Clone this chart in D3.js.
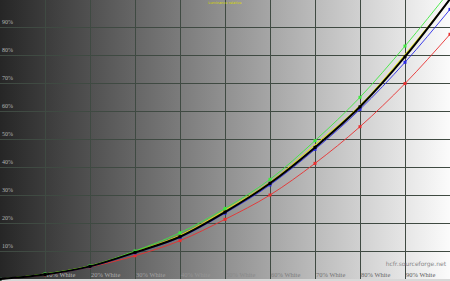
<!DOCTYPE html>
<html>
<head>
<meta charset="utf-8">
<script src="https://cdn.jsdelivr.net/npm/d3@7"></script>
<style>
  html, body { margin: 0; padding: 0; background: #fff; }
  svg { display: block; }
</style>
</head>
<body>
<div id="chart"></div>
<script>
// luminance response chart (HCFR style)

const levels = [0, 10, 20, 30, 40, 50, 60, 70, 80, 90, 100];
const yTicks = [10, 20, 30, 40, 50, 60, 70, 80, 90];
const xTicks = [10, 20, 30, 40, 50, 60, 70, 80, 90];

const reference = [0, 1.8, 4.7, 9.8, 15.6, 24.6, 34.6, 47.9, 62.0, 80.2, 100];
const greenValues = [0, 1.8, 4.7, 10.0, 16.5, 25.2, 35.6, 49.4, 64.9, 83.2, 103];
const blueValues = [0, 1.6, 4.4, 9.3, 14.8, 23.5, 33.6, 46.3, 60.6, 77.4, 96.3];
const redValues = [0, 1.5, 4.3, 8.3, 13.7, 21.3, 30.0, 41.3, 54.4, 69.8, 87.4];
const lumaValues = [0, 1.6, 4.5, 9.5, 15.1, 23.9, 34.2, 47.0, 61.5, 79.4, 100];

const width = 450, height = 281;

const svg = d3.select("#chart").append("svg")
    .attr("width", width)
    .attr("height", height)
    .attr("viewBox", [0, 0, width, height]);

const x = d3.scaleLinear().domain([0, 100]).range([0, 450]);
const y = d3.scaleLinear().domain([0, 100]).range([279, -1]);

// black -> white background
const grad = svg.append("defs").append("linearGradient")
    .attr("id", "bg")
    .attr("x1", "0%").attr("x2", "100%");
grad.append("stop").attr("offset", "0%").attr("stop-color", "#262626");
grad.append("stop").attr("offset", "100%").attr("stop-color", "#fbfbfb");

svg.append("rect")
    .attr("width", width).attr("height", height)
    .attr("fill", "url(#bg)");

// thin light strip at bottom
svg.append("rect")
    .attr("y", 279).attr("width", width).attr("height", 2)
    .attr("fill", "#d8d8d8");

// grid
svg.append("g").selectAll("line")
    .data(xTicks)
    .join("line")
    .attr("x1", d => Math.round(x(d)) + 0.5)
    .attr("x2", d => Math.round(x(d)) + 0.5)
    .attr("y1", 0).attr("y2", 279)
    .attr("stroke", "#3f4a42")
    .attr("stroke-width", 1);

svg.append("g").selectAll("line")
    .data(yTicks)
    .join("line")
    .attr("x1", 0).attr("x2", width)
    .attr("y1", d => Math.round(y(d)) + 0.5)
    .attr("y2", d => Math.round(y(d)) + 0.5)
    .attr("stroke", "#3f4a42")
    .attr("stroke-width", 1);

// y labels
svg.append("g").selectAll("text")
    .data(yTicks)
    .join("text")
    .attr("x", 2)
    .attr("y", d => y(d) - 3)
    .attr("fill", "#b4b4b4")
    .style("font", "6px 'Liberation Serif', serif")
    .text(d => d + "%");

// x labels, lighter on the dark side
const labelColor = d3.scaleLinear().domain([10, 90]).range(["#b8b8b8", "#5a5a5a"]);
svg.append("g").selectAll("text")
    .data(xTicks)
    .join("text")
    .attr("x", d => x(d) + 1)
    .attr("y", 277)
    .attr("fill", d => labelColor(d))
    .style("font", "6.5px 'Liberation Serif', serif")
    .text(d => d + "% White");

svg.append("text")
    .attr("x", 446).attr("y", 266)
    .attr("text-anchor", "end")
    .attr("fill", "#8a8a8a")
    .style("font", "6px 'DejaVu Sans', sans-serif")
    .text("hcfr.sourceforge.net");

svg.append("text")
    .attr("x", 225).attr("y", 4)
    .attr("text-anchor", "middle")
    .attr("fill", "#d8d800")
    .style("font", "3.5px 'DejaVu Sans', sans-serif")
    .text("Luminance relative");

// curves
const line = d3.line()
    .x((d, i) => x(levels[i]))
    .y(d => y(d))
    .curve(d3.curveMonotoneX);

const series = [
    { values: reference, color: "#e8e800", width: 1, marks: false },
    { values: redValues, color: "#e83030", width: 0.9, marks: true },
    { values: blueValues, color: "#2a2ae8", width: 0.9, marks: true },
    { values: greenValues, color: "#3ee83e", width: 0.9, marks: true },
    { values: lumaValues, color: "#000000", width: 2, marks: true }
];

const plot = svg.append("g");

series.forEach(s => {
    plot.append("path")
        .datum(s.values)
        .attr("fill", "none")
        .attr("stroke", s.color)
        .attr("stroke-width", s.width)
        .attr("d", line);
    if (s.marks) {
        plot.append("g").selectAll("rect")
            .data(s.values)
            .join("rect")
            .attr("x", (d, i) => x(levels[i]) - 1.5)
            .attr("y", d => y(d) - 1.5)
            .attr("width", 3).attr("height", 3)
            .attr("fill", s.color);
    }
});
</script>
</body>
</html>
